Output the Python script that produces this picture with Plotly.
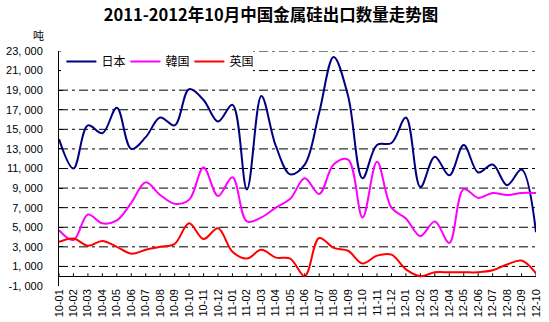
import plotly.graph_objects as go

# Monthly export volume of silicon metal (tonnes), Jan 2010 – Oct 2012
months = [
    "10-01", "10-02", "10-03", "10-04", "10-05", "10-06", "10-07", "10-08", "10-09", "10-10", "10-11", "10-12",
    "11-01", "11-02", "11-03", "11-04", "11-05", "11-06", "11-07", "11-08", "11-09", "11-10", "11-11", "11-12",
    "12-01", "12-02", "12-03", "12-04", "12-05", "12-06", "12-07", "12-08", "12-09", "12-10",
]

japan = [
    14000, 11000, 15400, 14600, 17200, 13000, 14200, 16200, 15400, 19100, 18000, 15800,
    17500, 8850, 18400, 13300, 10400, 11400, 16700, 22400, 18400, 10000, 13400, 13600,
    16200, 9100, 12200, 10300, 13400, 10600, 11400, 9300, 10900, 4500,
]

korea = [
    4700, 3700, 6300, 5400, 5700, 7500, 9600, 8300, 7400, 7800, 11100, 8200,
    10100, 5600, 6000, 7000, 7900, 10000, 8400, 11400, 11900, 6000, 11700, 7000,
    5900, 4100, 5600, 3400, 8900, 8000, 8500, 8300, 8500, 8500,
]

uk = [
    3500, 3850, 3100, 3600, 3000, 2300, 2700, 3000, 3300, 5400, 3800, 4900,
    2500, 1800, 2700, 1900, 1800, 0, 3900, 2900, 2600, 1300, 2100, 2200,
    700, 0, 400, 400, 400, 400, 600, 1200, 1600, 300,
]

y_ticks = list(range(-1000, 23001, 2000))
y_ticktext = [f"{v:,}".replace(",", ", ") for v in y_ticks]

series = [
    ("日本", japan, "#000080"),
    ("韓国", korea, "#FF00FF"),
    ("英国", uk, "#FF0000"),
]

fig = go.Figure()
for name, values, color in series:
    fig.add_trace(go.Scatter(
        x=months, y=values, name=name, mode="lines",
        line=dict(color=color, width=2, shape="spline", smoothing=1.0),
    ))

shapes = []
# dash-dot horizontal gridlines (none on the bottom edge)
for v in y_ticks[1:]:
    shapes.append(dict(type="line", xref="paper", yref="y", x0=0, x1=1, y0=v, y1=v,
                       layer="below", line=dict(color="black", width=1, dash="9px,4px,3px,4px")))
# small category tick marks sitting on the zero line
for m in months:
    shapes.append(dict(type="line", xref="x", yref="y", x0=m, x1=m, y0=0, y1=300,
                       line=dict(color="black", width=1)))

fig.update_layout(
    width=549, height=322,
    margin=dict(l=59, r=13, t=51, b=36),
    paper_bgcolor="white", plot_bgcolor="white",
    showlegend=True,
    title=dict(
        text="<b>2011-2012年10月中国金属硅出口数量走势图</b>",
        x=271 / 549, xref="container", xanchor="center",
        y=1 - 15 / 322, yref="container", yanchor="middle",
        font=dict(family="Noto Sans CJK SC", size=16.5, color="black"),
    ),
    legend=dict(
        orientation="h", x=0.005, xanchor="left", y=1 + 4 / 235, yanchor="top",
        bgcolor="white", borderwidth=0,
        font=dict(family="Noto Sans CJK SC", size=12, color="black"),
        entrywidth=19, entrywidthmode="pixels",
        itemwidth=30, tracegroupgap=0,
    ),
    xaxis=dict(
        type="category", range=[0, len(months) - 1],
        showgrid=False, showline=False, zeroline=False,
        ticks="", tickangle=-90,
        tickfont=dict(family="Liberation Sans", size=11, color="black"),
        automargin=False,
    ),
    yaxis=dict(
        range=[-1000, 23000],
        tickvals=y_ticks, ticktext=y_ticktext,
        showgrid=False,
        showline=True, linecolor="black", linewidth=1,
        zeroline=True, zerolinecolor="black", zerolinewidth=1,
        ticks="inside", ticklen=4, tickcolor="black",
        ticklabelstandoff=13,
        tickfont=dict(family="Liberation Sans", size=11, color="black"),
        automargin=False,
    ),
    shapes=shapes,
    annotations=[dict(
        text="吨", xref="paper", yref="paper", x=-21 / 477, y=1 + 16 / 235,
        xanchor="center", yanchor="middle", showarrow=False,
        font=dict(family="Noto Sans CJK SC", size=11, color="black"),
    )],
)

fig.write_html("out.html")
